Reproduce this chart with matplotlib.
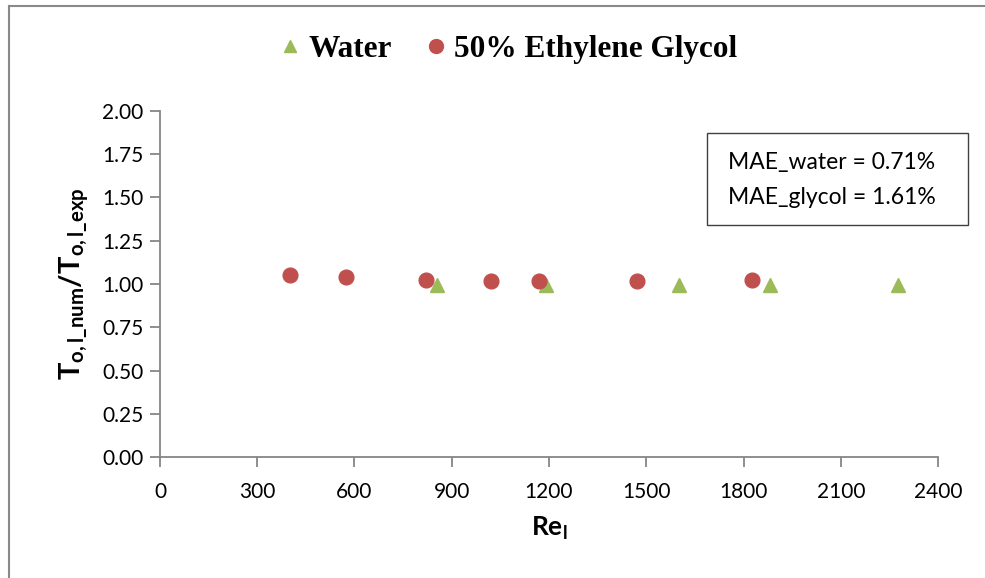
import matplotlib
matplotlib.use("Agg")
import matplotlib.pyplot as plt
from matplotlib.lines import Line2D
from matplotlib.patches import Rectangle

# data
re_water = [854, 1191, 1601, 1882, 2276]
ratio_water = [0.995, 0.995, 0.995, 0.995, 0.995]
re_glycol = [401, 574, 820, 1021, 1169, 1471, 1826]
ratio_glycol = [1.052, 1.040, 1.023, 1.017, 1.017, 1.019, 1.021]

x_ticks = [0, 300, 600, 900, 1200, 1500, 1800, 2100, 2400]
y_ticks = [0.00, 0.25, 0.50, 0.75, 1.00, 1.25, 1.50, 1.75, 2.00]

green = "#9BBB59"
red = "#C0504D"
axis_gray = "#868686"

plt.rcParams["font.family"] = ["Lato", "DejaVu Sans"]
plt.rcParams["mathtext.fontset"] = "custom"
plt.rcParams["mathtext.rm"] = "Lato"
plt.rcParams["mathtext.bf"] = "Lato:bold"
plt.rcParams["mathtext.it"] = "Lato:italic"

fig = plt.figure(figsize=(9.85, 5.78), dpi=100)
ax = fig.add_axes([0.1624, 0.2093, 0.7899, 0.5987])

ax.plot(re_water, ratio_water, linestyle="none", marker="^", markersize=10,
        color=green, label="Water", zorder=3)
ax.plot(re_glycol, ratio_glycol, linestyle="none", marker="o", markersize=10.6,
        color=red, label="50% Ethylene Glycol", zorder=4)

ax.set_xlim(0, 2400)
ax.set_ylim(0, 2)
ax.set_xticks(x_ticks)
ax.set_yticks(y_ticks)
ax.set_xticklabels([str(t) for t in x_ticks])
ax.set_yticklabels([f"{t:.2f}" for t in y_ticks])
ax.tick_params(axis="both", colors=axis_gray, labelcolor="black", labelsize=15,
               length=7, width=1.3, direction="out")
ax.tick_params(axis="x", pad=11)
ax.tick_params(axis="y", pad=5)

for side in ["top", "right"]:
    ax.spines[side].set_visible(False)
for side in ["left", "bottom"]:
    ax.spines[side].set_color(axis_gray)
    ax.spines[side].set_linewidth(1.3)

ax.set_xlabel(r"$\mathbf{Re_l}$", fontsize=19, labelpad=9)
ax.set_ylabel(r"$\mathbf{T_{o,l\_num}/T_{o,l\_exp}}$", fontsize=21, labelpad=8)

# MAE box
ax.add_patch(Rectangle((0.703, 0.6705), 0.3356, 0.2659, transform=ax.transAxes,
                       fc="white", ec="#404040", lw=1.0, clip_on=False, zorder=5))
ax.text(0.730, 0.850, "MAE_water = 0.71%", transform=ax.transAxes, fontsize=16.5,
        va="center", ha="left", zorder=6)
ax.text(0.730, 0.749, "MAE_glycol = 1.61%", transform=ax.transAxes, fontsize=16.5,
        va="center", ha="left", zorder=6)

# legend on top
handles = [
    Line2D([], [], linestyle="none", marker="^", markersize=9, color=green),
    Line2D([], [], linestyle="none", marker="o", markersize=10, color=red),
]
fig.legend(handles, ["Water", "50% Ethylene Glycol"], loc="center",
           bbox_to_anchor=(0.515, 0.915), ncol=2, frameon=False,
           prop={"family": ["Liberation Serif", "DejaVu Serif"], "weight": "bold", "size": 22.5},
           handlelength=0.8, handletextpad=0.2, columnspacing=1.0)

# outer frame lines (left and top)
fig.add_artist(Line2D([8.5 / 985, 8.5 / 985], [0, 1 - 5.5 / 578],
                      transform=fig.transFigure, color="#898989", lw=1.5))
fig.add_artist(Line2D([8.5 / 985, 1], [1 - 5.5 / 578, 1 - 5.5 / 578],
                      transform=fig.transFigure, color="#898989", lw=1.5))

fig.savefig("out.png", dpi=100)
